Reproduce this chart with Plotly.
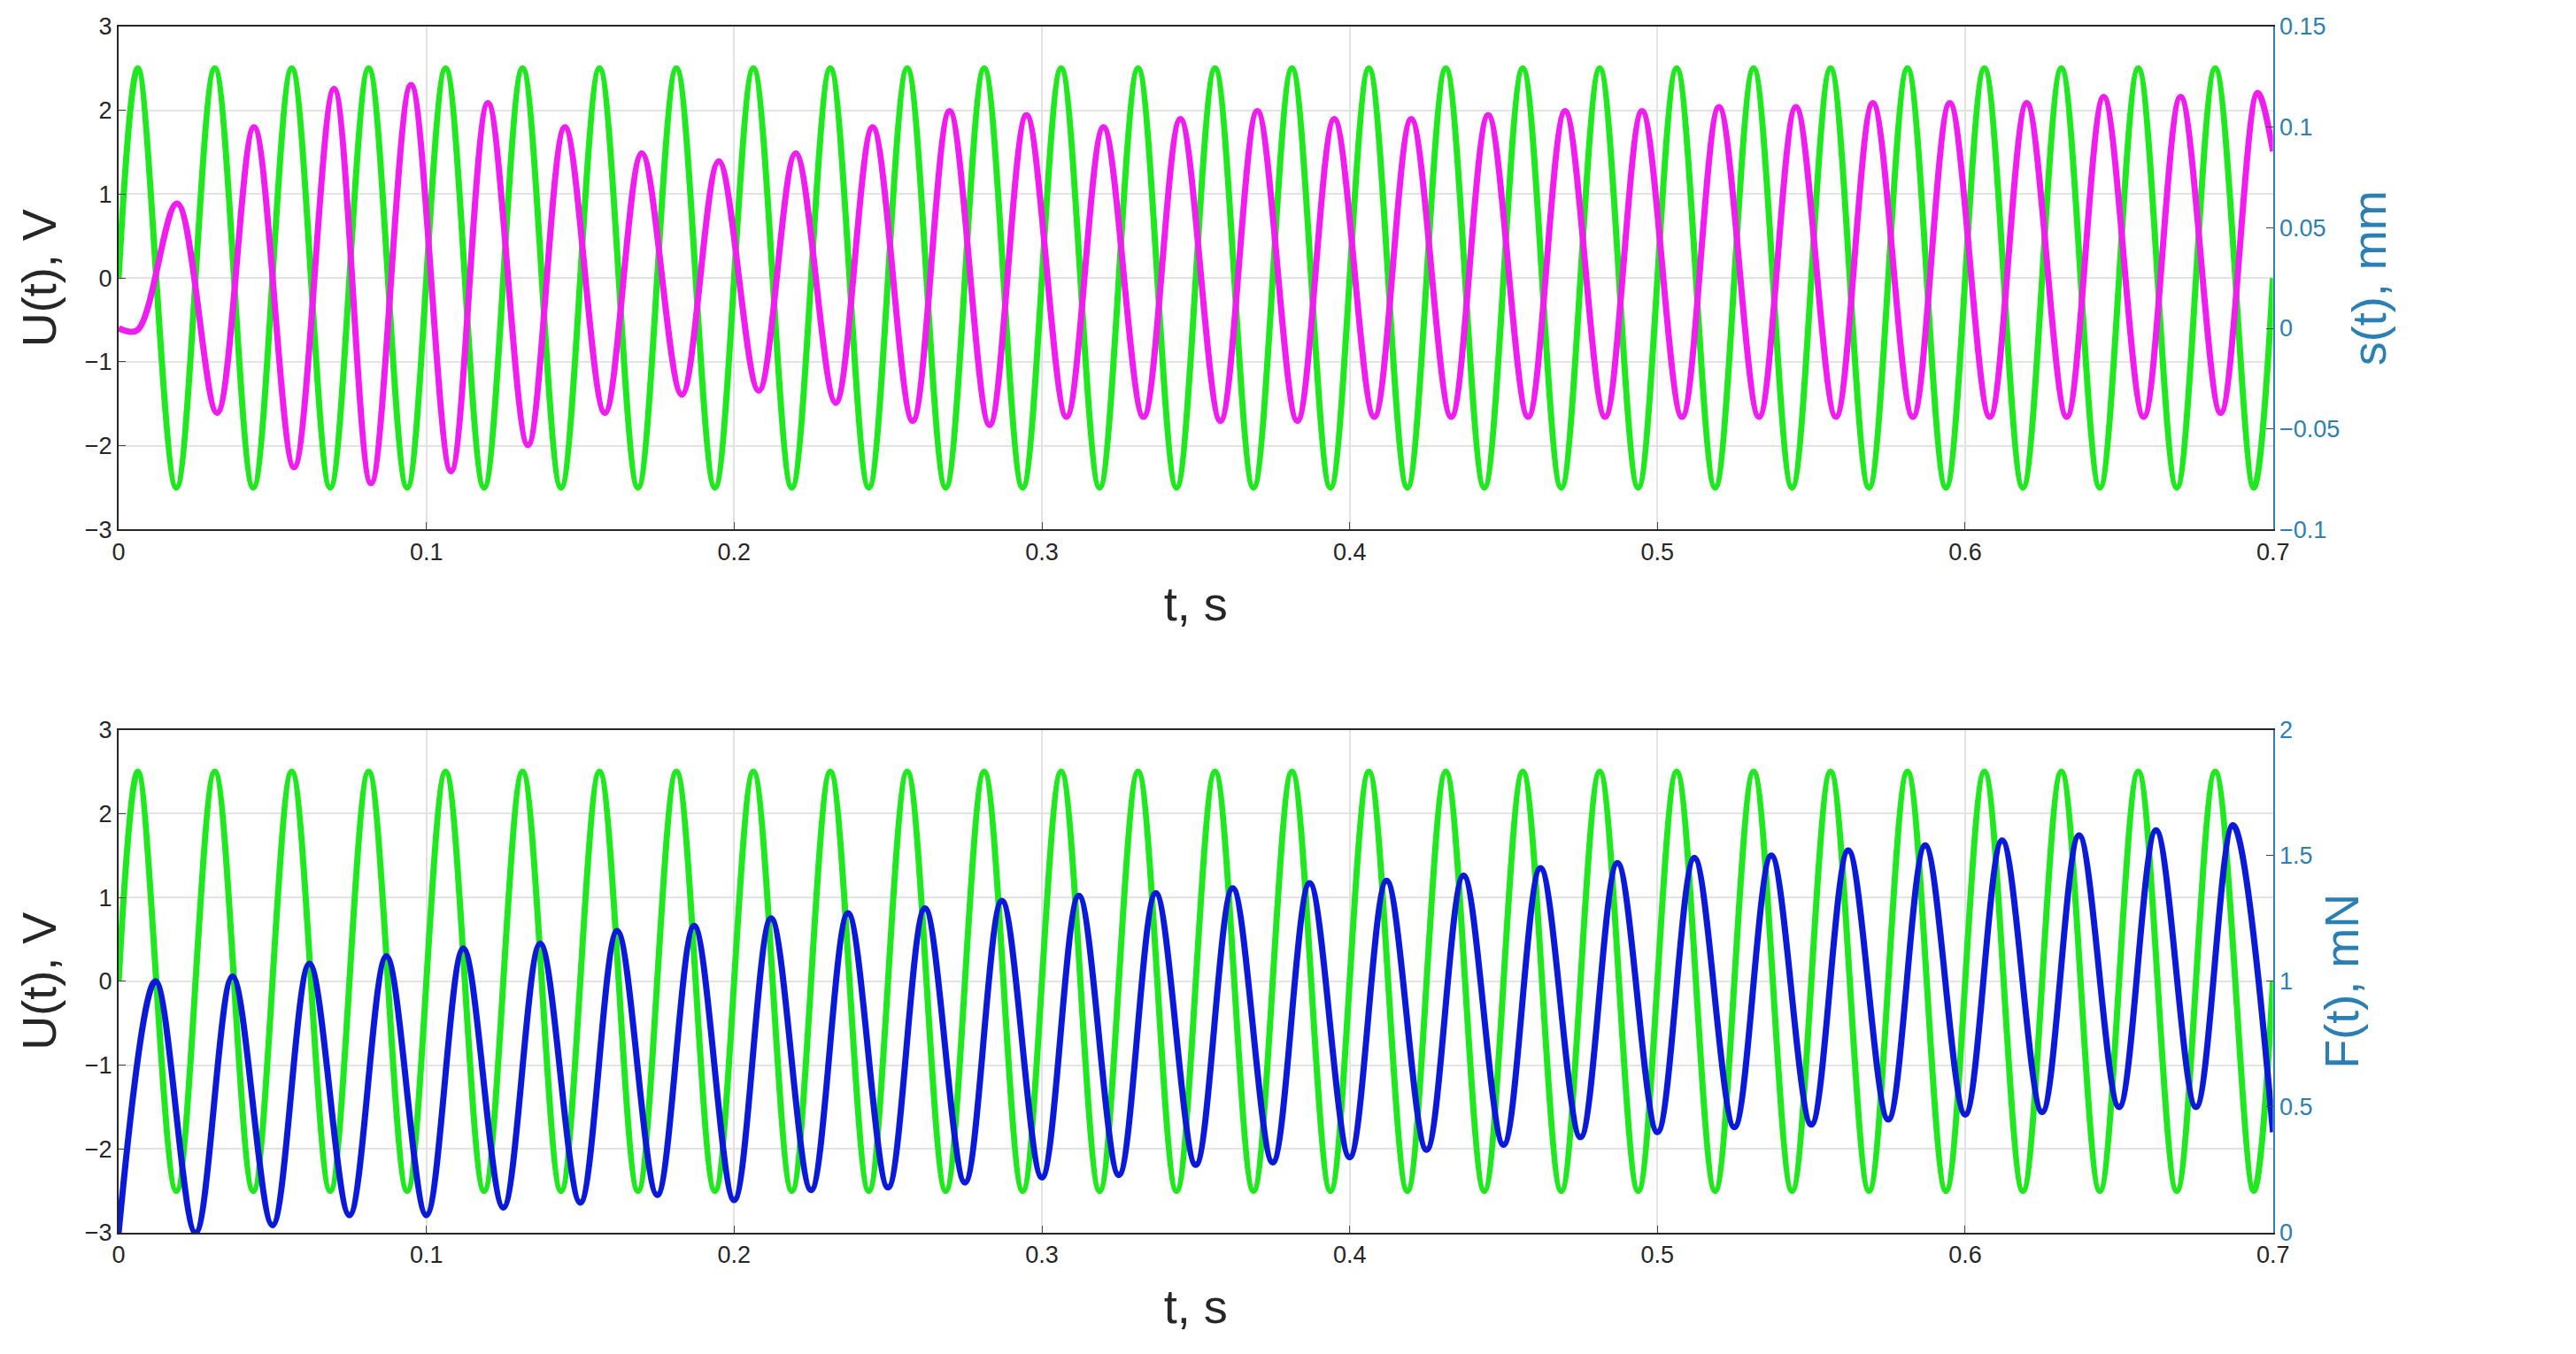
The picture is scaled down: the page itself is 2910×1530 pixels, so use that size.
import plotly.graph_objects as go
from plotly.subplots import make_subplots

# Green voltage U(t): extrema
u_t = [0.0] + [round(0.00625 + 0.0125 * k, 5) for k in range(56)] + [0.7]
u_v = [0.0] + [2.5 if k % 2 == 0 else -2.5 for k in range(56)] + [0.0]

# Magenta displacement s(t), mm (extrema)
s_t = [0.0, 0.006, 0.019, 0.032, 0.044, 0.057, 0.07, 0.082, 0.095, 0.108, 0.12, 0.133, 0.145, 0.158,
       0.17, 0.183, 0.195, 0.208, 0.22, 0.233, 0.245, 0.258, 0.27, 0.283, 0.295, 0.308, 0.32, 0.333,
       0.345, 0.358, 0.37, 0.383, 0.395, 0.408, 0.42, 0.433, 0.445, 0.458, 0.47, 0.483, 0.495, 0.508,
       0.52, 0.533, 0.545, 0.558, 0.57, 0.583, 0.595, 0.608, 0.62, 0.633, 0.645, 0.658, 0.67, 0.683,
       0.695, 0.7]
s_v = [0.0, -0.001, 0.062, -0.042, 0.1, -0.069, 0.119, -0.077, 0.121, -0.071, 0.112, -0.058, 0.1,
       -0.042, 0.087, -0.033, 0.083, -0.031, 0.087, -0.037, 0.1, -0.046, 0.108, -0.048, 0.106,
       -0.044, 0.1, -0.044, 0.104, -0.046, 0.108, -0.046, 0.104, -0.044, 0.104, -0.044, 0.106,
       -0.044, 0.108, -0.044, 0.108, -0.044, 0.11, -0.044, 0.11, -0.044, 0.112, -0.044, 0.112,
       -0.044, 0.112, -0.044, 0.115, -0.044, 0.115, -0.042, 0.117, 0.088]

# Blue force F(t), mN (extrema)
f_t = [0.0, 0.012, 0.025, 0.037, 0.05, 0.062, 0.075, 0.087, 0.1, 0.112, 0.125, 0.137, 0.15, 0.162,
       0.175, 0.187, 0.2, 0.212, 0.225, 0.237, 0.25, 0.262, 0.275, 0.287, 0.3, 0.312, 0.325, 0.337,
       0.35, 0.362, 0.375, 0.387, 0.4, 0.412, 0.425, 0.437, 0.45, 0.462, 0.475, 0.487, 0.5, 0.512,
       0.525, 0.537, 0.55, 0.562, 0.575, 0.587, 0.6, 0.612, 0.625, 0.637, 0.65, 0.662, 0.675, 0.687, 0.7]
f_v = [0.0, 1.0, 0.0, 1.02, 0.03, 1.07, 0.07, 1.1, 0.07, 1.13, 0.1, 1.15, 0.12, 1.2, 0.15, 1.22,
       0.13, 1.25, 0.17, 1.27, 0.18, 1.29, 0.2, 1.32, 0.22, 1.34, 0.23, 1.35, 0.27, 1.37, 0.28, 1.39,
       0.3, 1.4, 0.33, 1.42, 0.35, 1.45, 0.38, 1.47, 0.4, 1.49, 0.42, 1.5, 0.43, 1.52, 0.45, 1.54,
       0.47, 1.56, 0.48, 1.58, 0.5, 1.6, 0.5, 1.62, 0.4]

GREEN, MAG, BLUE, AX2 = "#1fe81f", "#f01cf0", "#0a1ad8", "#2a7fb5"

fig = make_subplots(rows=2, cols=1, specs=[[{"secondary_y": True}], [{"secondary_y": True}]],
                    vertical_spacing=0.166)
fig.add_trace(go.Scatter(x=u_t, y=u_v, mode="lines", line=dict(color=GREEN, width=7, shape="spline")), 1, 1)
fig.add_trace(go.Scatter(x=s_t, y=s_v, mode="lines", line=dict(color=MAG, width=7, shape="spline")), 1, 1, secondary_y=True)
fig.add_trace(go.Scatter(x=u_t, y=u_v, mode="lines", line=dict(color=GREEN, width=7, shape="spline")), 2, 1)
fig.add_trace(go.Scatter(x=f_t, y=f_v, mode="lines", line=dict(color=BLUE, width=7, shape="spline")), 2, 1, secondary_y=True)

fig.update_layout(width=2910, height=1530, showlegend=False, plot_bgcolor="white", paper_bgcolor="white",
                  margin=dict(l=126, r=195, t=22, b=145, autoexpand=False),
                  font=dict(family="Liberation Sans", color="#262626"))
fig.update_xaxes(range=[0, 0.7], dtick=0.1, showgrid=True, gridcolor="#e3e3e3", gridwidth=2,
                 showline=True, linecolor="#262626", linewidth=2, mirror=True, ticks="inside", ticklen=8,
                 tickfont=dict(size=27), zeroline=False, title=dict(text="t, s", font=dict(size=54), standoff=25),
                 tickformat="~g", automargin=False)
for r in (1, 2):
    fig.update_yaxes(range=[-3, 3], dtick=1, showgrid=True, gridcolor="#e3e3e3", gridwidth=2,
                     showline=True, linecolor="#262626", linewidth=2, ticks="inside", ticklen=8,
                     tickfont=dict(size=27), zeroline=False, title=dict(text="U(t), V", font=dict(size=54)),
                     automargin=False, row=r, col=1, secondary_y=False)
fig.update_yaxes(range=[-0.1, 0.15], dtick=0.05, tickformat="~g", row=1, col=1, secondary_y=True)
fig.update_yaxes(range=[0, 2], dtick=0.5, tickformat="~g", row=2, col=1, secondary_y=True)
fig.update_yaxes(showgrid=False, showline=True, linecolor=AX2, linewidth=2, ticks="inside", ticklen=8,
                 tickfont=dict(size=27, color=AX2), zeroline=False, automargin=False, secondary_y=True)
fig.update_yaxes(title=dict(text="s(t), mm", font=dict(size=54, color=AX2)), row=1, col=1, secondary_y=True)
fig.update_yaxes(title=dict(text="F(t), mN", font=dict(size=54, color=AX2)), row=2, col=1, secondary_y=True)
fig.write_html("out.html")
